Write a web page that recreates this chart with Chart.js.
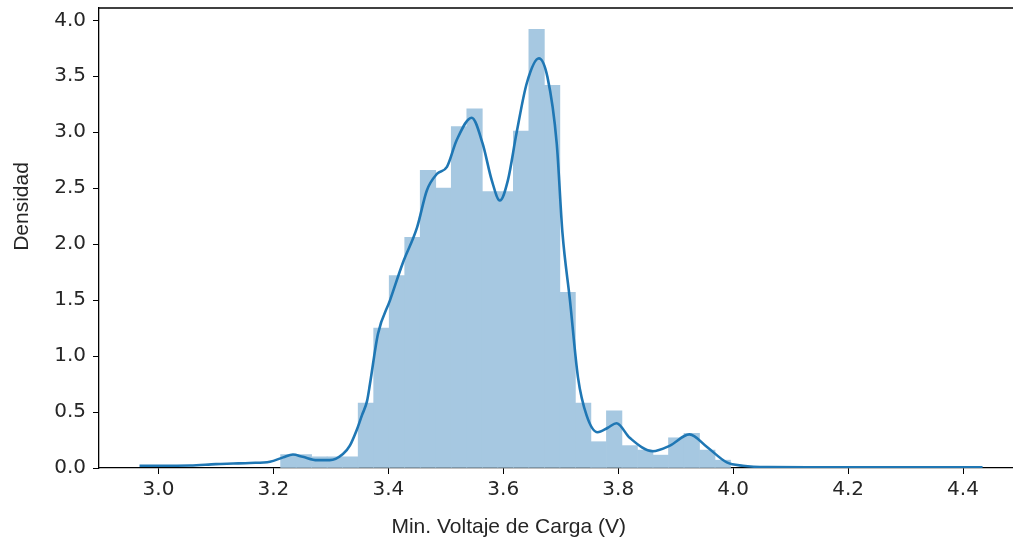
<!DOCTYPE html>
<html>
<head>
<meta charset="utf-8">
<script src="https://cdn.jsdelivr.net/npm/chart.js@4/dist/chart.umd.min.js"></script>
<style>
  html, body { margin: 0; padding: 0; background: #fff; }
  #wrap { width: 1013px; height: 545px; position: relative; }
</style>
</head>
<body>
<div id="wrap"><canvas id="densityChart"></canvas></div>
<script>
// histogram bins (centres) and their density heights
const binCenters = [3.226, 3.253, 3.280, 3.307, 3.334, 3.361, 3.388, 3.415, 3.442, 3.469,
  3.496, 3.523, 3.550, 3.577, 3.604, 3.631, 3.658, 3.685, 3.712, 3.739,
  3.766, 3.793, 3.820, 3.847, 3.874, 3.901, 3.928, 3.955, 3.982];
const binHeights = [0.12, 0.12, 0.10, 0.10, 0.10, 0.58, 1.25, 1.72, 2.06, 2.66,
  2.50, 3.05, 3.21, 2.47, 2.47, 3.01, 3.92, 3.42, 1.57, 0.58,
  0.235, 0.51, 0.20, 0.16, 0.115, 0.27, 0.31, 0.16, 0.07];

// kde curve
const kdeX = [2.967, 3.00, 3.055, 3.10, 3.13, 3.159, 3.194, 3.217, 3.234, 3.251,
  3.276, 3.298, 3.321, 3.333, 3.345, 3.354, 3.363, 3.368, 3.382, 3.403,
  3.425, 3.450, 3.467, 3.485, 3.502, 3.519, 3.545, 3.564, 3.580, 3.594,
  3.608, 3.623, 3.641, 3.662, 3.677, 3.693, 3.703, 3.716, 3.730, 3.745,
  3.764, 3.782, 3.797, 3.820, 3.860, 3.890, 3.924, 3.954, 3.989, 4.017,
  4.06, 4.15, 4.30, 4.434];
const kdeY = [0.02, 0.02, 0.022, 0.035, 0.04, 0.045, 0.056, 0.095, 0.12, 0.10,
  0.07, 0.07, 0.125, 0.20, 0.34, 0.47, 0.60, 0.75, 1.20, 1.50,
  1.83, 2.15, 2.48, 2.63, 2.69, 2.93, 3.13, 2.90, 2.57, 2.39,
  2.57, 2.99, 3.44, 3.66, 3.49, 2.90, 2.10, 1.50, 0.81, 0.47,
  0.32, 0.36, 0.40, 0.27, 0.15, 0.20, 0.30, 0.19, 0.05, 0.02,
  0.008, 0.006, 0.006, 0.006];

const xTicks = [3.0, 3.2, 3.4, 3.6, 3.8, 4.0, 4.2, 4.4];
const yTicks = [0.0, 0.5, 1.0, 1.5, 2.0, 2.5, 3.0, 3.5, 4.0];

const tickFont = { family: "'DejaVu Sans', sans-serif", size: 20 };
const labelFont = { family: "'Liberation Sans Narrow', 'Arial Narrow', 'Liberation Sans', sans-serif", size: 21 };

// top spine like matplotlib
const topSpine = {
  id: "topSpine",
  afterDraw(chart) {
    const { ctx, chartArea } = chart;
    ctx.save();
    ctx.strokeStyle = "#000";
    ctx.lineWidth = 1.3;
    ctx.beginPath();
    ctx.moveTo(chartArea.left, chartArea.top);
    ctx.lineTo(chartArea.right, chartArea.top);
    ctx.stroke();
    ctx.restore();
  },
};

const ctx = document.getElementById("densityChart");

new Chart(ctx, {
  type: "bar",
  data: {
    datasets: [
      {
        type: "line",
        data: kdeX.map((x, i) => ({ x: x, y: kdeY[i] })),
        borderColor: "#1f77b4",
        borderWidth: 2.6,
        pointRadius: 0,
        cubicInterpolationMode: "monotone",
        fill: false,
        order: 0,
      },
      {
        type: "bar",
        data: binCenters.map((x, i) => ({ x: x, y: binHeights[i] })),
        backgroundColor: "#a6c8e1",
        borderWidth: 0,
        barPercentage: 1.0,
        categoryPercentage: 1.0,
        order: 1,
      },
    ],
  },
  options: {
    responsive: true,
    maintainAspectRatio: false,
    animation: false,
    layout: { padding: { top: 8, right: 0, bottom: 0, left: 0 } },
    plugins: {
      legend: { display: false },
      tooltip: { enabled: false },
    },
    scales: {
      x: {
        type: "linear",
        min: 2.8965,
        max: 4.487,
        offset: false,
        afterBuildTicks: (scale) => { scale.ticks = xTicks.map((v) => ({ value: v })); },
        afterFit: (scale) => {
          scale.height = 77;
          scale.paddingLeft = 0;
          scale.paddingRight = 0;
        },
        grid: { drawOnChartArea: false, drawTicks: true, tickLength: 6, color: "#000", offset: false },
        border: { color: "#000", width: 1.3 },
        ticks: {
          font: tickFont,
          color: "#262626",
          padding: 4,
          maxRotation: 0,
          callback: (v) => Number(v).toFixed(1),
        },
        title: {
          display: true,
          // trailing em spaces: the label sits left of the (cropped) axes centre
          text: "Min. Voltaje de Carga (V)\u2003\u2003\u2003\u2003\u2002",
          font: labelFont,
          color: "#262626",
          padding: { top: 0, bottom: 5 },
        },
      },
      y: {
        min: 0,
        max: 4.11,
        afterBuildTicks: (scale) => { scale.ticks = yTicks.map((v) => ({ value: v })); },
        afterFit: (scale) => {
          scale.width = 99;
          scale.paddingTop = 0;
          scale.paddingBottom = 0;
        },
        grid: { drawOnChartArea: false, drawTicks: true, tickLength: 6, color: "#000" },
        border: { color: "#000", width: 1.3 },
        ticks: {
          font: tickFont,
          color: "#262626",
          padding: 7,
          callback: (v) => Number(v).toFixed(1),
        },
        title: {
          display: true,
          text: "\u2003\u2003\u2003Densidad",
          font: labelFont,
          color: "#262626",
          padding: { top: 10, bottom: 0 },
        },
      },
    },
  },
  plugins: [topSpine],
});
</script>
</body>
</html>
